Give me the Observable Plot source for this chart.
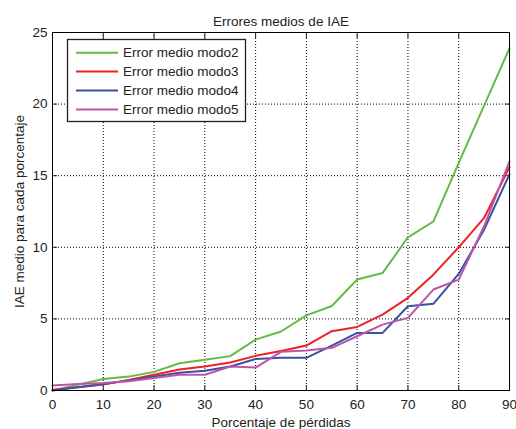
<!DOCTYPE html>
<html>
<head>
<meta charset="utf-8">
<script src="https://cdn.jsdelivr.net/npm/d3@7"></script>
<script src="https://cdn.jsdelivr.net/npm/@observablehq/plot@0.6"></script>
<style>
  html, body { margin: 0; padding: 0; background: #fff; }
  #chart { position: relative; width: 516px; height: 429px; }
  svg { font-family: "Liberation Sans", Arial, sans-serif; }
</style>
</head>
<body>
<div id="chart"></div>
<script>
const perdidas = [0,5,10,15,20,25,30,35,40,45,50,55,60,65,70,75,80,85,90];
const modo2 = [0,0.4,0.8,0.97,1.3,1.9,2.15,2.4,3.55,4.12,5.25,5.9,7.75,8.2,10.7,11.8,15.9,19.9,23.9];
const modo3 = [0.05,0.23,0.42,0.74,1.1,1.47,1.68,1.96,2.42,2.76,3.14,4.14,4.44,5.3,6.47,8.09,10.0,12.05,15.6];
const modo4 = [0,0.23,0.46,0.69,0.97,1.24,1.38,1.68,2.2,2.28,2.28,3.14,4.02,4.02,5.88,6.05,8.14,11.23,15.1];
const modo5 = [0.35,0.46,0.53,0.65,0.88,1.1,1.1,1.68,1.6,2.7,2.79,2.98,3.79,4.6,5.07,7.05,7.74,11.47,16.0];
const seriesNames = ["Error medio modo2","Error medio modo3","Error medio modo4","Error medio modo5"];
const seriesColors = ["#62bb46","#ee2222","#3a50a3","#bb55aa"];
const xTicks = [0,10,20,30,40,50,60,70,80,90];
const yTicks = [0,5,10,15,20,25];
const titulo = "Errores medios de IAE";
const xLabel = "Porcentaje de pérdidas";
const yLabel = "IAE medio para cada porcentaje";

const allSeries = [modo2, modo3, modo4, modo5];
const data = [];
allSeries.forEach((vals, s) => vals.forEach((v, i) => data.push({x: perdidas[i], y: v, serie: seriesNames[s]})));

const noText = () => "";

const plot = Plot.plot({
  width: 516,
  height: 429,
  marginLeft: 52,
  marginRight: 7,
  marginTop: 32,
  marginBottom: 39,
  style: {fontFamily: '"Liberation Sans", Arial, sans-serif', fontSize: "13.5px", background: "#fff", color: "#222"},
  x: {domain: [0, 90]},
  y: {domain: [0, 25]},
  color: {domain: seriesNames, range: seriesColors},
  marks: [
    Plot.ruleX(xTicks, {x: d => d, stroke: "#000", strokeDasharray: "1,2", strokeWidth: 1}),
    Plot.ruleY(yTicks, {y: d => d, stroke: "#000", strokeDasharray: "1,2", strokeWidth: 1}),
    Plot.axisX(xTicks, {anchor: "bottom", tickSize: -5, tickPadding: 14, label: xLabel, labelAnchor: "center", labelArrow: "none", labelOffset: 36, fontSize: 13.5}),
    Plot.axisX(xTicks, {anchor: "top", tickSize: -5, tickFormat: noText, label: null}),
    Plot.axisY(yTicks, {anchor: "left", tickSize: -5, tickPadding: 10, label: yLabel, labelAnchor: "center", labelArrow: "none", labelOffset: 38, fontSize: 13.5}),
    Plot.axisY(yTicks, {anchor: "right", tickSize: -5, tickFormat: noText, label: null}),
    Plot.line(data, {x: "x", y: "y", z: "serie", stroke: "serie", strokeWidth: 2}),
    Plot.frame({stroke: "#000", strokeWidth: 1}),
    Plot.text([titulo], {frameAnchor: "top", dy: -16, fontSize: 13.5, fill: "#222"})
  ]
});
document.getElementById("chart").appendChild(plot);

// legend
const svg = d3.select(plot);
const lg = svg.append("g").attr("font-family", '"Liberation Sans", Arial, sans-serif').attr("font-size", 13.5).attr("text-anchor", "start");
lg.append("rect").attr("x", 67.5).attr("y", 39.5).attr("width", 178).attr("height", 82)
  .attr("fill", "#fff").attr("stroke", "#222").attr("stroke-width", 1.3);
seriesNames.forEach((name, i) => {
  const yy = 52.7 + i * 18.9;
  lg.append("line").attr("x1", 76).attr("x2", 118).attr("y1", yy).attr("y2", yy)
    .attr("stroke", seriesColors[i]).attr("stroke-width", 2);
  lg.append("text").attr("x", 123).attr("y", yy).attr("dy", "0.35em").attr("fill", "#222").text(name);
});
</script>
</body>
</html>
